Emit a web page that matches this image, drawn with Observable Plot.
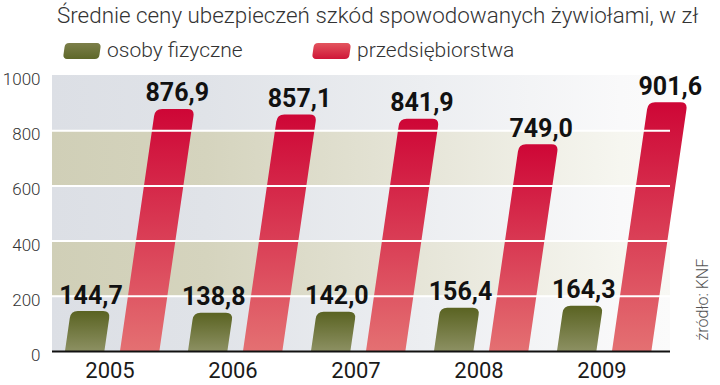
<!DOCTYPE html>
<html>
<head>
<meta charset="utf-8">
<script src="https://cdn.jsdelivr.net/npm/d3@7"></script>
<script src="https://cdn.jsdelivr.net/npm/@observablehq/plot@0.6"></script>
<style>
  body { margin: 0; background: #fff; font-family: Roboto, "Open Sans", sans-serif; }
  #wrap { position: relative; width: 720px; height: 385px; overflow: hidden; }
  #title { position: absolute; left: 57px; top: 4px; font-size: 22.4px; line-height: 1; font-weight: 300; color: #333; white-space: nowrap; }
  #legend { position: absolute; left: 0; top: 40px; height: 22px; width: 720px; }
  .sw { position: absolute; top: 3px; height: 16px; border-radius: 4px; transform: skewX(-8deg); }
  .lt { position: absolute; top: 0px; font-size: 21px; line-height: 1; font-weight: 300; color: #333; white-space: nowrap; }
  #chart { position: absolute; left: 0; top: 64px; }
</style>
</head>
<body>
<div id="wrap">
  <div id="title"></div>
  <div id="legend"></div>
  <div id="chart"></div>
</div>
<script>
// ---- data ----
const title = "Średnie ceny ubezpieczeń szkód spowodowanych żywiołami, w zł";
const source = "źródło: KNF";
const seriesNames = ["osoby fizyczne", "przedsiębiorstwa"];
const years = ["2005", "2006", "2007", "2008", "2009"];
const osobyFizyczne = [144.7, 138.8, 142.0, 156.4, 164.3];
const przedsiebiorstwa = [876.9, 857.1, 841.9, 749.0, 901.6];
const yTicks = [0, 200, 400, 600, 800, 1000];
const bandEdges = [0, 200, 400, 600, 800, 1000];

// ---- build tables ----
const fmt = v => v.toFixed(1).replace(".", ",");
const dataO = years.map((y, i) => ({year: y, value: osobyFizyczne[i], s: 0}));
const dataP = years.map((y, i) => ({year: y, value: przedsiebiorstwa[i], s: 1}));
const labels = [...dataO, ...dataP];
const bands = d3.range(bandEdges.length - 1).map(i => ({y1: bandEdges[i], y2: bandEdges[i + 1], k: i % 2}));

// ---- title & legend ----
document.getElementById("title").textContent = title;
const legend = document.getElementById("legend");
const legendItems = [
  {sw: 64, w: 36, tx: 107, bg: "linear-gradient(to bottom, #7c7f4a, #5e6829)"},
  {sw: 313, w: 37, tx: 357, bg: "linear-gradient(to bottom, #e3555e, #cf1638)"}
];
seriesNames.forEach((name, i) => {
  const it = legendItems[i];
  const s = document.createElement("div");
  s.className = "sw";
  s.style.left = it.sw + "px"; s.style.width = it.w + "px"; s.style.background = it.bg;
  legend.appendChild(s);
  const t = document.createElement("div");
  t.className = "lt"; t.style.left = it.tx + "px"; t.textContent = name;
  legend.appendChild(t);
});

// ---- chart ----
const K = 0.145; // slant of bars
const insets = [[11, 72.6], [66, 17.6]]; // left/right inset of each series within a year band
const svg = Plot.plot({
  width: 720, height: 321,
  marginLeft: 52, marginRight: 50, marginTop: 11, marginBottom: 34,
  style: {fontFamily: "Roboto, sans-serif", background: "transparent"},
  x: {domain: years, padding: 0},
  y: {domain: [0, 1000]},
  marks: [
    Plot.rect(bands.filter(d => d.k === 0), {y1: "y1", y2: "y2", fill: "url(#bandA)"}),
    Plot.rect(bands.filter(d => d.k === 1), {y1: "y1", y2: "y2", fill: "url(#bandB)"}),
    Plot.barY(dataO, {x: "year", y: "value", fill: "url(#gO)", insetLeft: insets[0][0], insetRight: insets[0][1]}),
    Plot.barY(dataP, {x: "year", y: "value", fill: "url(#gP)", insetLeft: insets[1][0], insetRight: insets[1][1]}),
    Plot.ruleY([200, 400, 600, 800], {stroke: "#fff", strokeWidth: 2}),
    Plot.ruleY([0], {stroke: "#111", strokeWidth: 2}),
    Plot.text(labels, {
      x: "year", y: "value", text: d => fmt(d.value),
      dy: -8, lineAnchor: "bottom",
      fontSize: 25, fontWeight: 700, fill: "#111"
    }),
    Plot.text([source], {
      frameAnchor: "bottom-right", rotate: -90, textAnchor: "start",
      dx: 37, dy: -11, fontSize: 16, fontWeight: 300, fill: "#555"
    }),
    Plot.axisY({ticks: yTicks, tickFormat: d => String(d), tickSize: 0, tickPadding: 12,
      fontSize: 17, fontWeight: 300, fill: "#333", dy: 4, label: null}),
    Plot.axisX({tickSize: 0, tickPadding: 11, fontSize: 22, fill: "#1a1a1a", dx: -6, label: null})
  ]
});

// ---- gradients ----
const ns = "http://www.w3.org/2000/svg";
const defs = d3.select(svg).insert("defs", ":first-child");
function grad(id, vertical, stops) {
  const g = defs.append("linearGradient").attr("id", id)
    .attr("x1", 0).attr("y1", 0).attr("x2", vertical ? 0 : 1).attr("y2", vertical ? 1 : 0);
  stops.forEach(([o, c]) => g.append("stop").attr("offset", o).attr("stop-color", c));
}
grad("bandA", false, [[0, "#dcdfe5"], [0.25, "#e0e3e8"], [0.6, "#eceef1"], [0.92, "#f9f9fa"], [1, "#fbfbfb"]]);
grad("bandB", false, [[0, "#d0cfb7"], [0.25, "#d5d4be"], [0.6, "#e6e5d8"], [0.92, "#f6f6f0"], [1, "#f8f8f4"]]);
grad("gO", true, [[0, "#5a6322"], [1, "#8c9062"]]);
grad("gP", true, [[0, "#ce0636"], [1, "#e47072"]]);

// ---- slant bars, round top corners ----
const yS = svg.scale("y");
const xS = svg.scale("x");
const bw = xS.bandwidth;
const y0 = yS.apply(0);
const deg = -Math.atan(K) * 180 / Math.PI;
d3.select(svg).selectAll('g[aria-label="bar"]').each(function () {
  const prev = this.getAttribute("transform") || "";
  this.setAttribute("transform", `translate(${K * y0},0) skewX(${deg}) ${prev}`);
  d3.select(this).selectAll("rect").each(function () {
    const x = +this.getAttribute("x"), y = +this.getAttribute("y");
    const w = +this.getAttribute("width"), h = +this.getAttribute("height");
    const r = Math.min(7, h / 2);
    const p = document.createElementNS(ns, "path");
    p.setAttribute("d", `M${x},${y + h}V${y + r}Q${x},${y} ${x + r},${y}H${x + w - r}Q${x + w},${y} ${x + w},${y + r}V${y + h}Z`);
    const f = this.getAttribute("fill"); if (f) p.setAttribute("fill", f);
    this.replaceWith(p);
  });
});
// move value labels over their bar's (slanted) top
const textGroups = d3.select(svg).selectAll('g[aria-label="text"]').nodes();
const valueTexts = d3.select(textGroups[0]).selectAll("text").nodes();
valueTexts.forEach((t, i) => {
  const d = labels[i];
  const [il, ir] = insets[d.s];
  const barCenter = il + (bw - il - ir) / 2 - bw / 2;
  const shift = barCenter + K * (y0 - yS.apply(d.value)) + (d.s === 1 ? 2 : 0);
  const prev = t.getAttribute("transform") || "";
  t.setAttribute("transform", `translate(${shift},0) ${prev}`);
});

document.getElementById("chart").appendChild(svg);
</script>
</body>
</html>
